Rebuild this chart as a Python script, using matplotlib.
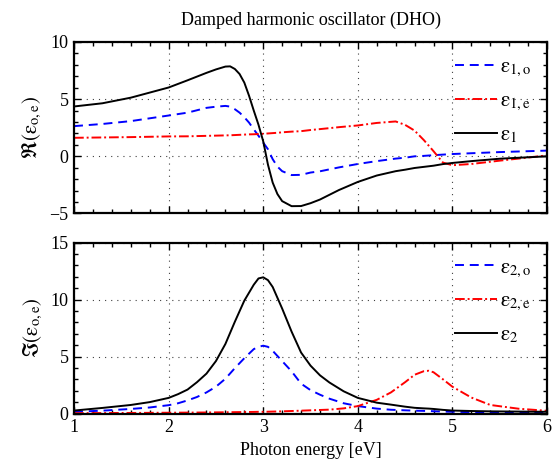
import matplotlib
matplotlib.use('Agg')
import matplotlib.pyplot as plt
from matplotlib.ticker import MultipleLocator

plt.rcParams['font.family'] = ['Liberation Serif', 'STIXGeneral', 'DejaVu Serif']
plt.rcParams['mathtext.fontset'] = 'stix'
plt.rcParams['font.size'] = 13

# real part, photon energy grid [eV]
energy_re = [1.0, 1.3, 1.6, 2.0, 2.2, 2.4, 2.5, 2.6, 2.65, 2.7, 2.75, 2.8, 2.85, 2.9, 2.95,
             3.0, 3.05, 3.1, 3.15, 3.2, 3.3, 3.4, 3.5, 3.6, 3.8, 4.0, 4.2, 4.4, 4.5,
             4.6, 4.7, 4.8, 4.9, 5.0, 5.2, 5.5, 6.0]
eps1 = [4.36, 4.64, 5.13, 6.02, 6.65, 7.30, 7.60, 7.85, 7.87, 7.64, 7.20, 6.45, 5.30, 4.00, 2.76,
        1.31, -0.73, -2.30, -3.30, -3.92, -4.36, -4.35, -4.10, -3.78, -2.95, -2.24, -1.68, -1.30, -1.17,
        -1.02, -0.92, -0.82, -0.68, -0.58, -0.42, -0.21, 0.00]
eps1_o = [2.64, 2.83, 3.08, 3.57, 3.82, 4.24, 4.34, 4.41, 4.35, 4.12, 3.82, 3.42, 2.95, 2.36, 1.80,
          1.20, 0.62, -0.25, -0.90, -1.30, -1.64, -1.62, -1.42, -1.31, -0.97, -0.67, -0.42, -0.20, -0.12,
          0.00, 0.04, 0.10, 0.15, 0.20, 0.27, 0.37, 0.50]
eps1_e = [1.62, 1.65, 1.68, 1.74, 1.75, 1.79, 1.81, 1.83, 1.84, 1.86, 1.88, 1.90, 1.92, 1.93, 1.95,
          1.97, 2.00, 2.03, 2.06, 2.10, 2.16, 2.20, 2.30, 2.38, 2.55, 2.70, 2.92, 3.05, 2.75,
          2.25, 1.40, 0.45, -0.55, -0.78, -0.67, -0.38, 0.08]

# imaginary part
energy_im = [1.0, 1.3, 1.6, 1.8, 2.0, 2.1, 2.2, 2.3, 2.4, 2.5, 2.6, 2.7, 2.8, 2.9, 2.95,
             3.0, 3.05, 3.1, 3.2, 3.3, 3.4, 3.5, 3.6, 3.7, 3.85, 4.0, 4.2, 4.35, 4.5,
             4.6, 4.7, 4.75, 4.8, 4.9, 5.0, 5.2, 5.4, 5.7, 6.0]
eps2 = [0.26, 0.49, 0.75, 1.00, 1.37, 1.70, 2.10, 2.75, 3.50, 4.60, 6.10, 8.05, 9.90, 11.30, 11.85,
        11.95, 11.70, 11.10, 9.21, 7.18, 5.35, 4.20, 3.35, 2.72, 1.95, 1.37, 0.95, 0.78, 0.60,
        0.50, 0.45, 0.43, 0.40, 0.32, 0.26, 0.22, 0.19, 0.17, 0.15]
eps2_o = [0.15, 0.25, 0.40, 0.53, 0.73, 0.90, 1.15, 1.45, 1.85, 2.35, 3.05, 3.98, 4.85, 5.65, 5.85,
          5.95, 5.85, 5.50, 4.60, 3.70, 2.62, 2.05, 1.65, 1.30, 0.90, 0.65, 0.43, 0.33, 0.28,
          0.25, 0.23, 0.22, 0.20, 0.17, 0.15, 0.12, 0.10, 0.08, 0.06]
eps2_e = [0.03, 0.04, 0.05, 0.06, 0.07, 0.075, 0.08, 0.085, 0.09, 0.10, 0.11, 0.12, 0.13, 0.14, 0.15,
          0.15, 0.16, 0.17, 0.19, 0.22, 0.25, 0.28, 0.31, 0.34, 0.45, 0.65, 1.20, 1.85, 2.75,
          3.40, 3.72, 3.75, 3.62, 3.00, 2.35, 1.40, 0.75, 0.42, 0.24]

labels_re = [r'$\mathrm{\varepsilon}_{\mathrm{1,o}}$', r'$\mathrm{\varepsilon}_{\mathrm{1,e}}$',
             r'$\mathrm{\varepsilon}_{\mathrm{1}}$']
labels_im = [r'$\mathrm{\varepsilon}_{\mathrm{2,o}}$', r'$\mathrm{\varepsilon}_{\mathrm{2,e}}$',
             r'$\mathrm{\varepsilon}_{\mathrm{2}}$']

fig = plt.figure(figsize=(5.52, 4.59), dpi=100)
ax_re = fig.add_axes([0.1341, 0.5349, 0.8569, 0.3736])
ax_im = fig.add_axes([0.1341, 0.0991, 0.8569, 0.3725])

lw = 1.4
dash = (4.6, 3.0)
dashdot = (5.0, 1.5, 1.0, 1.5)


def draw(ax, x, o, e, tot, labels):
    ax.plot(x, o, color='blue', lw=lw, dashes=dash, label=labels[0])
    ax.plot(x, e, color='red', lw=lw, dashes=dashdot, label=labels[1])
    ax.plot(x, tot, color='black', lw=lw, label=labels[2])
    ax.set_xlim(1, 6)
    ax.set_xticks([1, 2, 3, 4, 5, 6])
    ax.xaxis.set_minor_locator(MultipleLocator(0.2))
    ax.yaxis.set_minor_locator(MultipleLocator(1))
    ax.tick_params(which='both', direction='in', top=True, right=True, width=1)
    ax.tick_params(which='major', length=5, pad=4)
    ax.tick_params(which='minor', length=3)
    ax.grid(True, which='major', color='0.25', lw=0.8, linestyle=(0, (1, 4.5)))
    for sp in ax.spines.values():
        sp.set_linewidth(1.6)
    leg = ax.legend(loc='upper right', bbox_to_anchor=(1.0, 1.0), frameon=False,
                    handlelength=2.0, handletextpad=0.15, labelspacing=0.6, fontsize=15,
                    borderaxespad=0.35)
    return leg


draw(ax_re, energy_re, eps1_o, eps1_e, eps1, labels_re)
ax_re.set_ylim(-5, 10)
ax_re.set_yticks([-5, 0, 5, 10])
ax_re.set_yticklabels(['\u22125', '0', '5', '10'])
ax_re.tick_params(labelbottom=False)
ax_re.set_ylabel(r'$\Re(\mathrm{\varepsilon}_{\mathrm{o,e}})$', fontsize=15, labelpad=4)
ax_re.set_title('Damped harmonic oscillator (DHO)', fontsize=13, pad=12)

draw(ax_im, energy_im, eps2_o, eps2_e, eps2, labels_im)
ax_im.set_ylim(0, 15)
ax_im.set_yticks([0, 5, 10, 15])
ax_im.set_ylabel(r'$\Im(\mathrm{\varepsilon}_{\mathrm{o,e}})$', fontsize=15, labelpad=4)
ax_im.set_xlabel('Photon energy [eV]', fontsize=13, labelpad=4)

fig.savefig('out.png', dpi=100)
